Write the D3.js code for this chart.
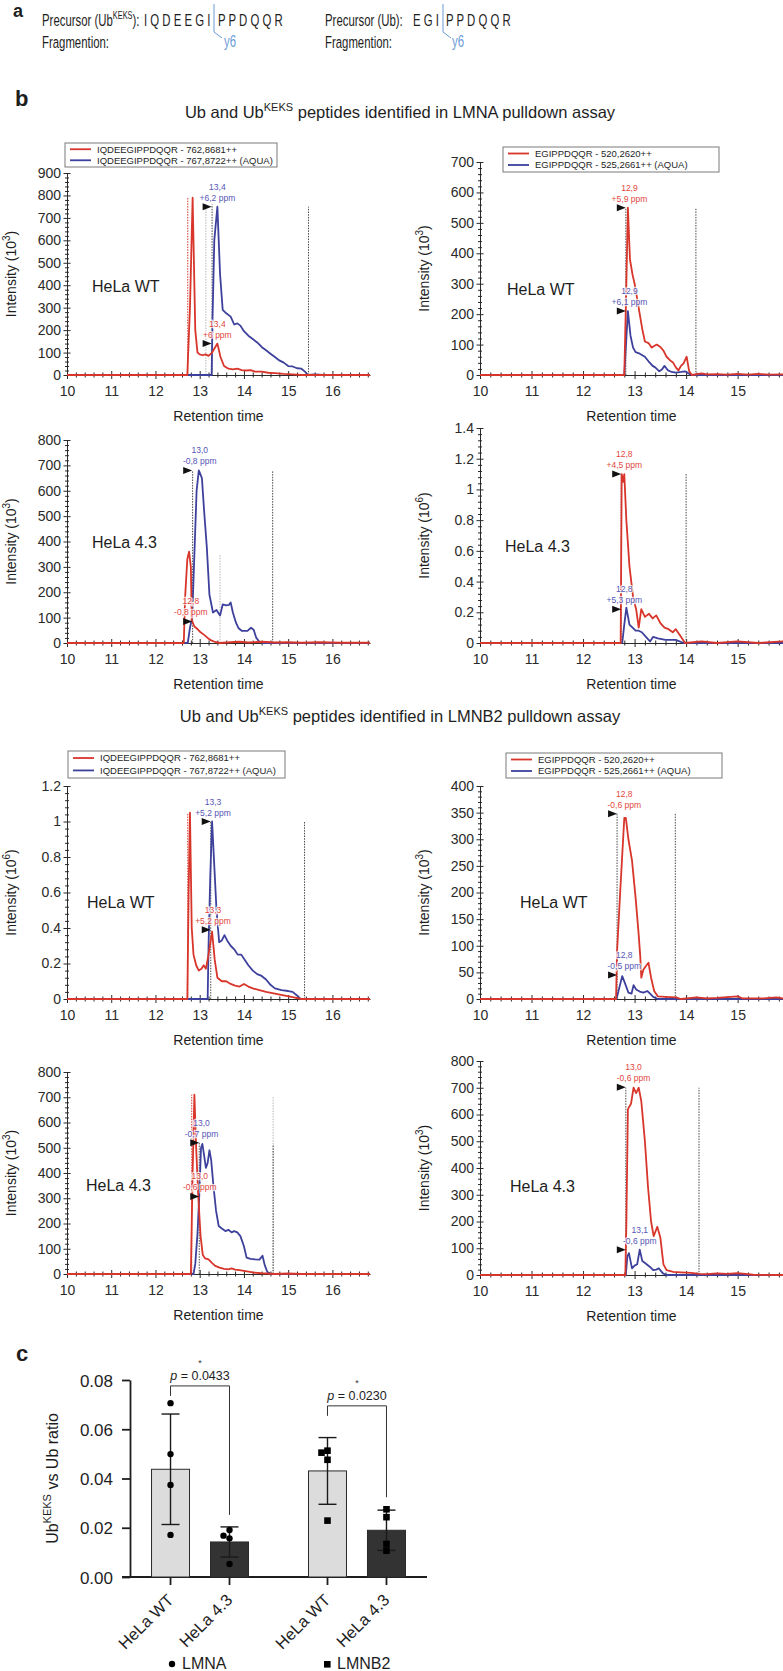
<!DOCTYPE html>
<html><head><meta charset="utf-8">
<script src="https://cdn.jsdelivr.net/npm/d3@7"></script>
<style>
body{margin:0;background:#fff;}
svg{display:block;font-family:"Liberation Sans",Arial,Helvetica,sans-serif;}
</style></head><body>
<svg id="fig" width="783" height="1671"></svg>
<script>
// ---------------- DATA ----------------
const rtTicks = [10, 11, 12, 13, 14, 15, 16];
const yTicks900 = [0,100,200,300,400,500,600,700,800,900];
const yTicks800 = [0,100,200,300,400,500,600,700,800];
const yTicks700 = [0,100,200,300,400,500,600,700];
const yTicks400 = [0,50,100,150,200,250,300,350,400];
const yTicks14 = [0,0.2,0.4,0.6,0.8,1,1.2,1.4];
const yTicks12 = [0,0.2,0.4,0.6,0.8,1,1.2];
const keksLegend = ["IQDEEGIPPDQQR - 762,8681++", "IQDEEGIPPDQQR - 767,8722++ (AQUA)"];
const ubLegend = ["EGIPPDQQR - 520,2620++", "EGIPPDQQR - 525,2661++ (AQUA)"];

// LMNA pulldown, HeLa WT, Ub-KEKS peptide (red) and AQUA (blue), intensity 10^3
const lmnaWtKeks = [[10,0],[12.72,0],[12.78,300],[12.84,790],[12.9,200],[12.95,100],[13.0,92],[13.07,88],[13.13,92],[13.2,85],[13.28,100],[13.4,140],[13.47,80],[13.55,40],[13.65,28],[13.75,25],[13.85,28],[13.95,22],[14.05,20],[14.15,22],[14.25,15],[14.4,15],[14.55,10],[14.7,8],[14.9,5],[15.1,3],[15.3,0],[16.85,0]];
const lmnaWtKeksAqua = [[10,0],[13.27,0],[13.29,250],[13.33,600],[13.4,750],[13.46,450],[13.52,290],[13.6,275],[13.7,260],[13.78,225],[13.85,230],[13.92,220],[14.0,195],[14.1,175],[14.2,160],[14.3,145],[14.4,125],[14.5,110],[14.6,95],[14.7,80],[14.8,65],[14.9,55],[15.0,40],[15.1,38],[15.2,30],[15.3,28],[15.38,15],[15.45,0],[15.6,3],[15.8,0],[16.85,0]];
const lmnaWtKeksBounds = [[12.73,790,"r"],[13.14,760,"l"],[13.28,760,"k"],[15.46,750,"k"]];
const lmnaWtKeksNotes = [{c:"b",rt:13.4,ppm:"+6,2 ppm",lvl:750,flag:13.27},{c:"r",rt:13.4,ppm:"+6 ppm",lvl:140,flag:13.27}];

// LMNA pulldown, HeLa WT, Ub peptide
const lmnaWtUb = [[10,0],[12.8,0],[12.84,300],[12.87,550],[12.91,380],[12.96,330],[13.0,300],[13.05,250],[13.1,200],[13.15,150],[13.2,110],[13.27,105],[13.33,90],[13.38,95],[13.43,100],[13.5,92],[13.56,80],[13.62,60],[13.69,48],[13.75,40],[13.8,25],[13.85,15],[13.9,30],[13.95,38],[14.01,60],[14.06,12],[14.11,0],[14.3,5],[14.4,2],[14.6,3],[14.8,1],[15.0,4],[15.2,1],[15.4,4],[15.6,1],[15.88,2]];
const lmnaWtUbAqua = [[10,0],[12.8,0],[12.84,120],[12.87,210],[12.92,130],[12.97,90],[13.02,75],[13.1,70],[13.2,60],[13.27,45],[13.35,30],[13.4,25],[13.48,12],[13.53,18],[13.58,30],[13.65,15],[13.72,10],[13.8,8],[13.9,10],[13.98,12],[14.05,5],[14.1,0],[15.88,0]];
const lmnaWtUbBounds = [[12.83,550,"k"],[14.19,550,"k"]];
const lmnaWtUbNotes = [{c:"r",rt:12.9,ppm:"+5,9 ppm",lvl:550,flag:12.83},{c:"b",rt:12.9,ppm:"+6,1 ppm",lvl:210,flag:12.83}];

// LMNA pulldown, HeLa 4.3, Ub-KEKS peptide
const lmna43Keks = [[10,0],[12.64,0],[12.67,180],[12.72,330],[12.76,360],[12.8,300],[12.82,90],[12.88,65],[12.95,55],[13.02,42],[13.1,32],[13.18,20],[13.26,10],[13.35,4],[13.45,0],[13.7,3],[13.9,5],[14.1,2],[14.4,5],[14.7,2],[15.0,3],[15.3,1],[15.7,3],[16.2,1],[16.85,1]];
const lmna43KeksAqua = [[10,0],[12.73,0],[12.78,60],[12.83,100],[12.88,350],[12.93,600],[12.98,680],[13.05,650],[13.1,520],[13.16,380],[13.22,190],[13.3,120],[13.38,130],[13.46,108],[13.52,152],[13.6,148],[13.66,150],[13.7,160],[13.75,120],[13.82,80],[13.88,58],[13.95,48],[14.08,48],[14.16,60],[14.22,52],[14.28,20],[14.35,5],[14.42,0],[16.85,0]];
const lmna43KeksBounds = [[12.84,680,"k"],[13.46,350,"l"],[14.65,680,"k"]];
const lmna43KeksNotes = [{c:"b",rt:13.0,ppm:"-0,8 ppm",lvl:680,flag:12.83},{c:"r",rt:12.8,ppm:"-0,8 ppm",lvl:85,flag:12.83}];

// LMNA pulldown, HeLa 4.3, Ub peptide (10^6)
const lmna43Ub = [[10,0],[12.73,0],[12.75,1.1],[12.78,1.05],[12.8,1.1],[12.84,0.8],[12.9,0.5],[12.97,0.3],[13.03,0.22],[13.08,0.1],[13.13,0.22],[13.2,0.17],[13.28,0.19],[13.35,0.16],[13.42,0.18],[13.5,0.13],[13.58,0.1],[13.66,0.09],[13.74,0.07],[13.8,0.09],[13.88,0.05],[13.98,0],[14.3,0.01],[14.6,0],[15.0,0.01],[15.4,0],[15.88,0.01]];
const lmna43UbAqua = [[10,0],[12.76,0],[12.8,0.12],[12.84,0.23],[12.9,0.12],[12.96,0.1],[13.02,0.08],[13.08,0.08],[13.14,0.07],[13.22,0.04],[13.3,0.01],[13.36,0.04],[13.45,0.03],[13.6,0.02],[13.8,0.02],[13.95,0],[15.88,0]];
const lmna43UbBounds = [[12.74,1.1,"k"],[14.0,1.1,"k"]];
const lmna43UbNotes = [{c:"r",rt:12.8,ppm:"+4,5 ppm",lvl:1.1,flag:12.74},{c:"b",rt:12.8,ppm:"+5,3 ppm",lvl:0.22,flag:12.74}];

// LMNB2 pulldown, HeLa WT, Ub-KEKS peptide (10^6)
const lmnb2WtKeks = [[10,0],[12.72,0],[12.75,0.6],[12.78,1.05],[12.82,0.4],[12.86,0.25],[12.92,0.19],[12.98,0.16],[13.04,0.17],[13.09,0.19],[13.14,0.17],[13.2,0.25],[13.28,0.38],[13.34,0.22],[13.4,0.12],[13.5,0.1],[13.6,0.1],[13.7,0.085],[13.8,0.075],[13.9,0.07],[14.0,0.085],[14.1,0.07],[14.2,0.06],[14.35,0.05],[14.5,0.04],[14.7,0.03],[14.9,0.02],[15.1,0.01],[15.3,0],[16.85,0]];
const lmnb2WtKeksAqua = [[10,0],[13.18,0],[13.2,0.3],[13.24,0.7],[13.28,1.0],[13.33,0.75],[13.38,0.5],[13.44,0.32],[13.5,0.33],[13.56,0.36],[13.62,0.33],[13.7,0.3],[13.78,0.28],[13.86,0.25],[13.94,0.25],[14.02,0.22],[14.1,0.19],[14.2,0.16],[14.3,0.14],[14.4,0.13],[14.5,0.11],[14.6,0.08],[14.7,0.06],[14.85,0.05],[15.0,0.045],[15.1,0.04],[15.2,0.02],[15.28,0],[16.85,0]];
const lmnb2WtKeksBounds = [[12.73,1.05,"r"],[13.25,1.0,"k"],[15.37,1.0,"k"]];
const lmnb2WtKeksNotes = [{c:"b",rt:13.3,ppm:"+5,2 ppm",lvl:1.0,flag:13.25},{c:"r",rt:13.3,ppm:"+5,2 ppm",lvl:0.39,flag:13.25}];

// LMNB2 pulldown, HeLa WT, Ub peptide (10^3)
const lmnb2WtUb = [[10,0],[12.64,0],[12.66,90],[12.72,200],[12.8,340],[12.83,340],[12.88,300],[12.95,260],[13.02,190],[13.08,120],[13.11,80],[13.13,40],[13.17,55],[13.22,62],[13.27,68],[13.32,40],[13.38,15],[13.45,5],[13.6,4],[13.8,3],[13.9,0],[14.2,3],[14.4,1],[14.6,2],[15.0,5],[15.1,1],[15.5,1],[15.75,3],[15.88,1]];
const lmnb2WtUbAqua = [[10,0],[12.65,0],[12.7,20],[12.76,43],[12.82,28],[12.88,12],[12.94,10],[12.98,26],[13.03,18],[13.1,14],[13.17,12],[13.25,15],[13.3,10],[13.36,4],[13.45,0],[15.88,0]];
const lmnb2WtUbBounds = [[12.66,350,"k"],[13.79,350,"k"]];
const lmnb2WtUbNotes = [{c:"r",rt:12.8,ppm:"-0,6 ppm",lvl:348,flag:12.66},{c:"b",rt:12.8,ppm:"-0,5 ppm",lvl:45,flag:12.66}];

// LMNB2 pulldown, HeLa 4.3, Ub-KEKS peptide (10^3)
const lmnb243Keks = [[10,0],[12.8,0],[12.84,400],[12.88,710],[12.92,500],[12.97,300],[13.02,150],[13.07,75],[13.12,62],[13.2,58],[13.27,45],[13.35,32],[13.45,25],[13.55,20],[13.65,18],[13.72,22],[13.8,17],[13.9,15],[14.0,12],[14.2,6],[14.4,3],[14.6,1],[14.7,0],[15.0,2],[15.3,0],[16.85,0]];
const lmnb243KeksAqua = [[10,0],[12.86,0],[12.9,40],[12.95,160],[12.99,310],[13.03,500],[13.06,515],[13.1,470],[13.14,420],[13.18,440],[13.22,490],[13.26,450],[13.31,350],[13.37,250],[13.43,190],[13.5,180],[13.58,170],[13.65,175],[13.72,165],[13.78,170],[13.85,165],[13.92,150],[14.0,110],[14.06,65],[14.15,60],[14.25,58],[14.35,57],[14.42,72],[14.47,35],[14.53,8],[14.62,0],[16.85,0]];
const lmnb243KeksBounds = [[12.82,710,"r"],[12.99,520,"k"],[14.66,700,"l"],[14.66,510,"k"]];
const lmnb243KeksNotes = [{c:"b",rt:13.04,ppm:"-0,7 ppm",lvl:520,flag:12.99},{c:"r",rt:13.0,ppm:"-0,6 ppm",lvl:307,flag:12.99}];

// LMNB2 pulldown, HeLa 4.3, Ub peptide (10^3)
const lmnb243Ub = [[10,0],[12.82,0],[12.84,190],[12.87,620],[12.93,640],[12.98,700],[13.03,680],[13.08,700],[13.13,650],[13.2,500],[13.26,330],[13.32,200],[13.37,145],[13.44,180],[13.5,140],[13.56,40],[13.62,18],[13.75,12],[13.9,10],[14.1,8],[14.25,4],[14.4,3],[14.6,6],[14.8,4],[15.0,7],[15.1,5],[15.3,1],[15.88,0]];
const lmnb243UbAqua = [[10,0],[12.83,0],[12.86,70],[12.89,82],[12.95,25],[13.0,35],[13.05,40],[13.1,95],[13.15,52],[13.22,42],[13.3,30],[13.36,18],[13.42,20],[13.47,25],[13.55,6],[13.62,0],[15.88,0]];
const lmnb243UbBounds = [[12.83,700,"k"],[14.25,700,"k"]];
const lmnb243UbNotes = [{c:"r",rt:12.98,ppm:"-0,6 ppm",lvl:702,flag:12.83},{c:"b",rt:13.1,ppm:"-0,6 ppm",lvl:94,flag:12.83}];

// Panel c: UbKEKS vs Ub ratio replicates
const ratioGroups = ["LMNA", "LMNB2"];
const ratioConditions = ["HeLa WT", "HeLa 4.3"];
const lmnaWtRatio = [0.0706, 0.0499, 0.0374, 0.0171];
const lmna43Ratio = [0.0191, 0.0168, 0.0157, 0.0053];
const lmnb2WtRatio = [0.0513, 0.0505, 0.0476, 0.0229];
const lmnb243Ratio = [0.0275, 0.0243, 0.0134, 0.0107];
const ratioTicks = [0, 0.02, 0.04, 0.06, 0.08];
const pValues = ["0.0433", "0.0230"];
const bracketLevels = [0.0776, 0.0695];

// ---------------- DRAWING ----------------
const svg = d3.select("#fig");
const FONT = "'Liberation Sans', Arial, Helvetica, sans-serif";
const RED = "#d8352b", BLUE = "#3d419c";
const RED_T = "#e2473d", BLUE_T = "#5656b6";
const INK = "#1e1e1e";

function rich(t, parts, supSize, rise) {
  let up = false;
  parts.forEach(([s, sup]) => {
    const ts = t.append("tspan").text(s);
    if (sup) { ts.attr("font-size", supSize); if (!up) { ts.attr("dy", -rise); up = true; } }
    else if (up) { ts.attr("dy", rise); up = false; }
  });
  return t;
}

// panel letters
svg.append("text").attr("x", 13).attr("y", 17).attr("font-size", 18).attr("font-weight", "bold").attr("fill", INK).text("a");
svg.append("text").attr("x", 15).attr("y", 106).attr("font-size", 22).attr("font-weight", "bold").attr("fill", INK).text("b");
svg.append("text").attr("x", 16).attr("y", 1361).attr("font-size", 22).attr("font-weight", "bold").attr("fill", INK).text("c");

// ---- panel a ----
const aG = svg.append("g").attr("font-size", 17).attr("fill", INK);
function narrow(x, y, parts, color) {
  const t = aG.append("text").attr("transform", `translate(${x},${y}) scale(0.67,1)`);
  if (color) t.attr("fill", color);
  return rich(t, parts, 11, 7);
}
const YBLUE = "#6a9bd6";
narrow(42, 26, [["Precursor (Ub"], ["KEKS", true], ["):"]]);
narrow(144, 26, [["I Q D E E G I"]]);
narrow(218, 26, [["P P D Q Q R"]]);
narrow(42, 48, [["Fragmention:"]]);
narrow(224, 47, [["y6"]], YBLUE);
narrow(325, 26, [["Precursor (Ub):"]]);
narrow(413, 26, [["E G I"]]);
narrow(446, 26, [["P P D Q Q R"]]);
narrow(325, 48, [["Fragmention:"]]);
narrow(452, 47, [["y6"]], YBLUE);
aG.append("path").attr("d", "M214,4V32L222,38").attr("fill", "none").attr("stroke", YBLUE).attr("stroke-width", 1);
aG.append("path").attr("d", "M443,4V32L451,38").attr("fill", "none").attr("stroke", YBLUE).attr("stroke-width", 1);

// ---- titles ----
function title(y, assay) {
  const t = svg.append("text").attr("x", 400).attr("y", y).attr("text-anchor", "middle")
    .attr("font-size", 16.5).attr("fill", INK);
  rich(t, [["Ub and Ub"], ["KEKS", true], [` peptides identified in ${assay} pulldown assay`]], 11, 7);
}
title(118, "LMNA");
title(722, "LMNB2");

// ---- chromatogram panels ----
const LEFT = {x0: 67, x1: 370, xMax: 16.85, ylab: 16};
const RIGHT = {x0: 480, x1: 783, xMax: 15.88, ylab: 429};

const panels = [
  {s: LEFT, y0: 375, yTop: 173, yMax: 900, ticks: yTicks900, exp: "3", red: lmnaWtKeks, blue: lmnaWtKeksAqua, bounds: lmnaWtKeksBounds, notes: lmnaWtKeksNotes, legend: {x: 65, y: 143, w: 212, h: 24, names: keksLegend}, cell: "HeLa WT", cx: 92, cy: 292},
  {s: RIGHT, y0: 375, yTop: 162, yMax: 700, ticks: yTicks700, exp: "3", red: lmnaWtUb, blue: lmnaWtUbAqua, bounds: lmnaWtUbBounds, notes: lmnaWtUbNotes, legend: {x: 503, y: 147, w: 216, h: 25, names: ubLegend}, cell: "HeLa WT", cx: 507, cy: 295},
  {s: LEFT, y0: 643, yTop: 440, yMax: 800, ticks: yTicks800, exp: "3", red: lmna43Keks, blue: lmna43KeksAqua, bounds: lmna43KeksBounds, notes: lmna43KeksNotes, cell: "HeLa 4.3", cx: 92, cy: 548},
  {s: RIGHT, y0: 643, yTop: 428, yMax: 1.4, ticks: yTicks14, exp: "6", red: lmna43Ub, blue: lmna43UbAqua, bounds: lmna43UbBounds, notes: lmna43UbNotes, cell: "HeLa 4.3", cx: 505, cy: 552},
  {s: LEFT, y0: 999, yTop: 786, yMax: 1.2, ticks: yTicks12, exp: "6", red: lmnb2WtKeks, blue: lmnb2WtKeksAqua, bounds: lmnb2WtKeksBounds, notes: lmnb2WtKeksNotes, legend: {x: 68, y: 751, w: 217, h: 27, names: keksLegend}, cell: "HeLa WT", cx: 87, cy: 908},
  {s: RIGHT, y0: 999, yTop: 786, yMax: 400, ticks: yTicks400, exp: "3", red: lmnb2WtUb, blue: lmnb2WtUbAqua, bounds: lmnb2WtUbBounds, notes: lmnb2WtUbNotes, legend: {x: 506, y: 753, w: 216, h: 25, names: ubLegend}, cell: "HeLa WT", cx: 520, cy: 908},
  {s: LEFT, y0: 1274, yTop: 1072, yMax: 800, ticks: yTicks800, exp: "3", red: lmnb243Keks, blue: lmnb243KeksAqua, bounds: lmnb243KeksBounds, notes: lmnb243KeksNotes, cell: "HeLa 4.3", cx: 86, cy: 1191},
  {s: RIGHT, y0: 1275, yTop: 1061, yMax: 800, ticks: yTicks800, exp: "3", red: lmnb243Ub, blue: lmnb243UbAqua, bounds: lmnb243UbBounds, notes: lmnb243UbNotes, cell: "HeLa 4.3", cx: 510, cy: 1192}
];

const fmtTick = d => String(Math.round(d * 10) / 10);

function drawPanel(p) {
  const s = p.s;
  const g = svg.append("g");
  const x = d3.scaleLinear().domain([10, s.xMax]).range([s.x0, s.x1]);
  const y = d3.scaleLinear().domain([0, p.yMax]).range([p.y0, p.yTop]);

  // y axis
  const yg = g.append("g").attr("transform", `translate(${s.x0},0)`)
    .call(d3.axisLeft(y).tickValues(p.ticks).tickSize(3.5).tickSizeOuter(0).tickPadding(2.5).tickFormat(fmtTick));
  yg.attr("font-size", 14).attr("font-family", FONT).attr("color", "#2a2a2a");
  yg.selectAll(".tick line").attr("x1", 3.5);
  const step = p.ticks[1] - p.ticks[0];
  const yMinor = [];
  for (let i = 0; i < p.ticks.length - 1; i++) for (let k = 1; k < 5; k++) yMinor.push(p.ticks[i] + k * step / 5);
  const ym = g.append("g").attr("transform", `translate(${s.x0},0)`)
    .call(d3.axisLeft(y).tickValues(yMinor).tickSize(2).tickFormat(""));
  ym.attr("color", "#2a2a2a"); ym.select(".domain").remove(); ym.selectAll(".tick line").attr("x1", 2);

  // x axis
  const xg = g.append("g").attr("transform", `translate(0,${p.y0})`)
    .call(d3.axisBottom(x).tickValues(rtTicks.filter(t => t <= s.xMax)).tickFormat(d3.format("d"))
      .tickSize(4).tickSizeOuter(0).tickPadding(7));
  xg.attr("font-size", 14).attr("font-family", FONT).attr("color", "#2a2a2a");
  xg.selectAll(".tick line").attr("y1", -4);
  const xMinor = d3.range(50, Math.floor(s.xMax * 5) + 1).map(v => v / 5).filter(v => v % 1 !== 0);
  const xm = g.append("g").attr("transform", `translate(0,${p.y0})`)
    .call(d3.axisBottom(x).tickValues(xMinor).tickSize(2.5).tickFormat(""));
  xm.attr("color", "#2a2a2a"); xm.select(".domain").remove(); xm.selectAll(".tick line").attr("y1", -2.5);

  // axis titles
  g.append("text").attr("x", (s.x0 + s.x1) / 2).attr("y", p.y0 + 46).attr("text-anchor", "middle")
    .attr("font-size", 14).attr("fill", INK).text("Retention time");
  const yl = g.append("text").attr("transform", `translate(${s.ylab},${(p.y0 + p.yTop) / 2}) rotate(-90)`)
    .attr("text-anchor", "middle").attr("font-size", 14).attr("fill", INK);
  rich(yl, [["Intensity (10"], [p.exp, true], [")"]], 10, 6);

  // boundary markers
  const mStyle = {k: ["#4a4a4a", 1], l: ["#b5b5b5", 1], r: [RED, 1]};
  p.bounds.forEach(b => {
    g.append("line").attr("x1", x(b[0])).attr("x2", x(b[0])).attr("y1", y(0)).attr("y2", y(b[1]))
      .attr("stroke", mStyle[b[2]][0]).attr("stroke-width", mStyle[b[2]][1]).attr("stroke-dasharray", "1.5,1.2");
  });

  // traces
  const line = d3.line().x(d => x(d[0])).y(d => y(d[1]));
  g.append("path").datum(p.blue).attr("d", line).attr("fill", "none").attr("stroke", BLUE).attr("stroke-width", 1.8).attr("stroke-linejoin", "round");
  g.append("path").datum(p.red).attr("d", line).attr("fill", "none").attr("stroke", RED).attr("stroke-width", 1.8).attr("stroke-linejoin", "round");

  // apex annotations
  const fmtRt = d3.format(".1f");
  p.notes.forEach(n => {
    const ny = y(n.lvl), fx = x(n.flag);
    const col = n.c === "r" ? RED_T : BLUE_T;
    const lab = fmtRt(n.rt).replace(".", ",");
    [[lab, ny - 17], [n.ppm, ny - 6]].forEach(([t, yy]) => {
      g.append("text").attr("x", x(n.rt)).attr("y", yy).attr("text-anchor", "middle").attr("font-size", 8.5)
        .attr("fill", col).attr("stroke", "rgba(255,255,255,0.75)").attr("stroke-width", 2.5)
        .attr("paint-order", "stroke").text(t);
    });
    g.append("path").attr("d", `M${fx - 9},${ny - 3.5}L${fx},${ny}L${fx - 9},${ny + 3.5}Z`).attr("fill", "#111");
  });

  // cell line label
  g.append("text").attr("x", p.cx).attr("y", p.cy).attr("font-size", 16).attr("fill", INK).text(p.cell);

  // legend
  if (p.legend) {
    const L = p.legend;
    g.append("rect").attr("x", L.x).attr("y", L.y).attr("width", L.w).attr("height", L.h)
      .attr("fill", "#fff").attr("stroke", "#7a7a7a").attr("stroke-width", 1);
    [RED, BLUE].forEach((c, i) => {
      const ly = L.y + L.h * (i === 0 ? 0.26 : 0.72);
      g.append("line").attr("x1", L.x + 5).attr("x2", L.x + 26).attr("y1", ly).attr("y2", ly)
        .attr("stroke", c).attr("stroke-width", 1.8);
      g.append("text").attr("x", L.x + 32).attr("y", ly + 3.3).attr("font-size", 9.5).attr("fill", INK).text(L.names[i]);
    });
  }
}
panels.forEach(drawPanel);

// ---- panel c ----
const cg = svg.append("g");
const yC = d3.scaleLinear().domain([0, 0.08]).range([1577, 1380]);
const xO = d3.scaleBand().domain(ratioGroups).range([130, 427]).paddingInner(0.25).paddingOuter(0.071);
const xI = d3.scaleBand().domain(ratioConditions).range([0, xO.bandwidth()]).paddingInner(0.356).paddingOuter(0.176);
const ratioSets = [[lmnaWtRatio, lmna43Ratio], [lmnb2WtRatio, lmnb243Ratio]];

const yAx = cg.append("g").attr("transform", "translate(130,0)")
  .call(d3.axisLeft(yC).tickValues(ratioTicks).tickFormat(d3.format(".2f")).tickSize(8).tickSizeOuter(0).tickPadding(9));
yAx.attr("font-size", 17).attr("font-family", FONT).attr("color", INK);
yAx.selectAll("line,path").attr("stroke-width", 1.8);
yAx.selectAll("text").attr("dy", "0.36em");

cg.append("line").attr("x1", 122).attr("x2", 427).attr("y1", yC(0)).attr("y2", yC(0)).attr("stroke", INK).attr("stroke-width", 1.8);

const ylc = cg.append("text").attr("transform", `translate(58,${(1577 + 1380) / 2}) rotate(-90)`)
  .attr("text-anchor", "middle").attr("font-size", 16).attr("fill", INK);
rich(ylc, [["Ub"], ["KEKS", true], [" vs Ub ratio"]], 11, 7);

const barFill = ["#dcdcdc", "#333333"];
const stats = [];
ratioGroups.forEach((grp, gi) => {
  ratioConditions.forEach((cond, ci) => {
    const vals = ratioSets[gi][ci];
    const m = d3.mean(vals), sd = d3.deviation(vals);
    const bx = xO(grp) + xI(cond), bw = xI.bandwidth(), cx = bx + bw / 2;
    stats.push({gi, ci, cx, m, sd, max: Math.max(m + sd, d3.max(vals))});
    cg.append("rect").attr("x", bx).attr("y", yC(m)).attr("width", bw).attr("height", yC(0) - yC(m))
      .attr("fill", barFill[ci]).attr("stroke", "#2a2a2a").attr("stroke-width", 1);
    cg.append("line").attr("x1", cx).attr("x2", cx).attr("y1", yC(0)).attr("y2", yC(0) + 8).attr("stroke", INK).attr("stroke-width", 1.8);
    cg.append("text").attr("transform", `translate(${cx + 4},1601) rotate(-45)`).attr("text-anchor", "end")
      .attr("font-size", 16.5).attr("fill", INK).text(cond);
    const eb = cg.append("g").attr("stroke", "#1a1a1a").attr("stroke-width", 1.4);
    eb.append("line").attr("x1", cx).attr("x2", cx).attr("y1", yC(m - sd)).attr("y2", yC(m + sd));
    [m - sd, m + sd].forEach(v => eb.append("line").attr("x1", cx - 9).attr("x2", cx + 9).attr("y1", yC(v)).attr("y2", yC(v)));
    const placed = [];
    vals.slice().sort((a, b) => b - a).forEach(v => {
      const py = yC(v);
      let slot = 0;
      for (const sTry of [0, -1, 1, -2, 2]) {
        if (!placed.some(q => q.slot === sTry && Math.abs(q.py - py) < 6.5)) { slot = sTry; break; }
      }
      placed.push({slot, py});
      const px = cx + slot * 6;
      if (gi === 0) cg.append("circle").attr("cx", px).attr("cy", py).attr("r", 3.2).attr("fill", "#000");
      else cg.append("rect").attr("x", px - 3.3).attr("y", py - 3.3).attr("width", 6.6).attr("height", 6.6).attr("fill", "#000");
    });
  });
});

ratioGroups.forEach((grp, gi) => {
  const a = stats.find(s => s.gi === gi && s.ci === 0), b = stats.find(s => s.gi === gi && s.ci === 1);
  const top = yC(bracketLevels[gi]);
  cg.append("path").attr("d", `M${a.cx},${top + 10}V${top}H${b.cx}V${yC(b.max) - 12}`)
    .attr("fill", "none").attr("stroke", "#333").attr("stroke-width", 1);
  const mid = (a.cx + b.cx) / 2;
  const pt = cg.append("text").attr("x", mid).attr("y", top - 6).attr("text-anchor", "middle").attr("font-size", 12.5).attr("fill", INK);
  pt.append("tspan").attr("font-style", "italic").text("p");
  pt.append("tspan").text(` = ${pValues[gi]}`);
  cg.append("text").attr("x", mid).attr("y", top - 20).attr("text-anchor", "middle").attr("font-size", 9).attr("fill", "#333").text("*");
});

// legend
cg.append("circle").attr("cx", 172).attr("cy", 1664).attr("r", 3.2).attr("fill", "#000");
cg.append("text").attr("x", 182).attr("y", 1669).attr("font-size", 16).attr("fill", INK).text("LMNA");
cg.append("rect").attr("x", 324).attr("y", 1661).attr("width", 6.6).attr("height", 6.6).attr("fill", "#000");
cg.append("text").attr("x", 337).attr("y", 1669).attr("font-size", 16).attr("fill", INK).text("LMNB2");
</script>
</body></html>
